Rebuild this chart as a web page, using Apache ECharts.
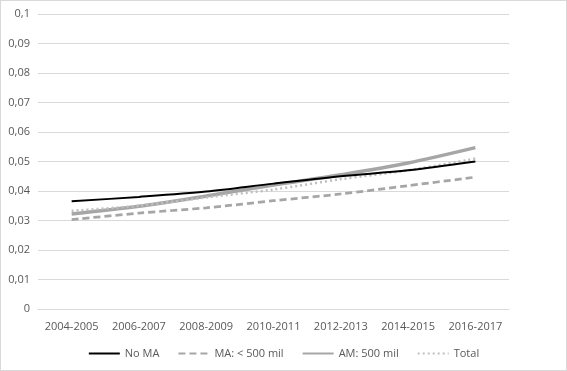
<!DOCTYPE html>
<html><head><meta charset="utf-8">
<script src="https://cdn.jsdelivr.net/npm/echarts@6/dist/echarts.min.js"></script>
<style>html,body{margin:0;padding:0;background:#fff}#c{width:567px;height:371px;box-sizing:border-box;border:1px solid #d9d9d9}</style>
</head><body><div id="c"></div>
<script>
var categories = ['2004-2005','2006-2007','2008-2009','2010-2011','2012-2013','2014-2015','2016-2017'];
var noMA = [0.0365,0.038,0.0398,0.0425,0.045,0.047,0.0500];
var maLess500 = [0.0303,0.0325,0.0343,0.0367,0.039,0.0418,0.0447];
var am500 = [0.0322,0.0348,0.0383,0.042,0.0455,0.0495,0.0547];
var total = [0.0333,0.035,0.0378,0.0405,0.044,0.047,0.051];
var seriesNames = ['No MA','MA: < 500 mil','AM: 500 mil','Total'];
var font = 'Open Sans';
var chart = echarts.init(document.getElementById('c'));
chart.setOption({
  animation:false,
  grid:{left:37,right:57,top:13,bottom:61},
  legend:{bottom:6,left:'center',orient:'horizontal',itemWidth:31,itemHeight:10,itemGap:18,
    itemStyle:{opacity:0},
    textStyle:{color:'#595959',fontSize:11,fontFamily:font},
    data:seriesNames},
  xAxis:{type:'category',data:categories,boundaryGap:true,
    axisLine:{lineStyle:{color:'#d9d9d9'}},axisTick:{show:false},
    axisLabel:{color:'#595959',fontSize:11,fontFamily:font,margin:12,interval:0}},
  yAxis:{type:'value',min:0,max:0.1,interval:0.01,
    axisLine:{show:false},axisTick:{show:false},
    splitLine:{lineStyle:{color:'#d9d9d9',width:1}},
    axisLabel:{color:'#595959',fontSize:11,fontFamily:font,margin:8,
      formatter:function(v){return String(Math.round(v*100)/100).replace('.',',');}}},
  series:[
    {name:seriesNames[0],type:'line',data:noMA,smooth:0.3,symbol:'none',z:5,
      lineStyle:{color:'#000',width:2},itemStyle:{color:'#000'}},
    {name:seriesNames[1],type:'line',data:maLess500,smooth:0.3,symbol:'none',
      lineStyle:{color:'#a6a6a6',width:2.75,type:[7,4]},itemStyle:{color:'#a6a6a6'}},
    {name:seriesNames[2],type:'line',data:am500,smooth:0.3,symbol:'none',
      lineStyle:{color:'#a6a6a6',width:3.5},itemStyle:{color:'#a6a6a6'}},
    {name:seriesNames[3],type:'line',data:total,smooth:0.3,symbol:'none',
      lineStyle:{color:'#bfbfbf',width:2.5,type:[2,3]},itemStyle:{color:'#bfbfbf'}}
  ]
});
</script></body></html>
